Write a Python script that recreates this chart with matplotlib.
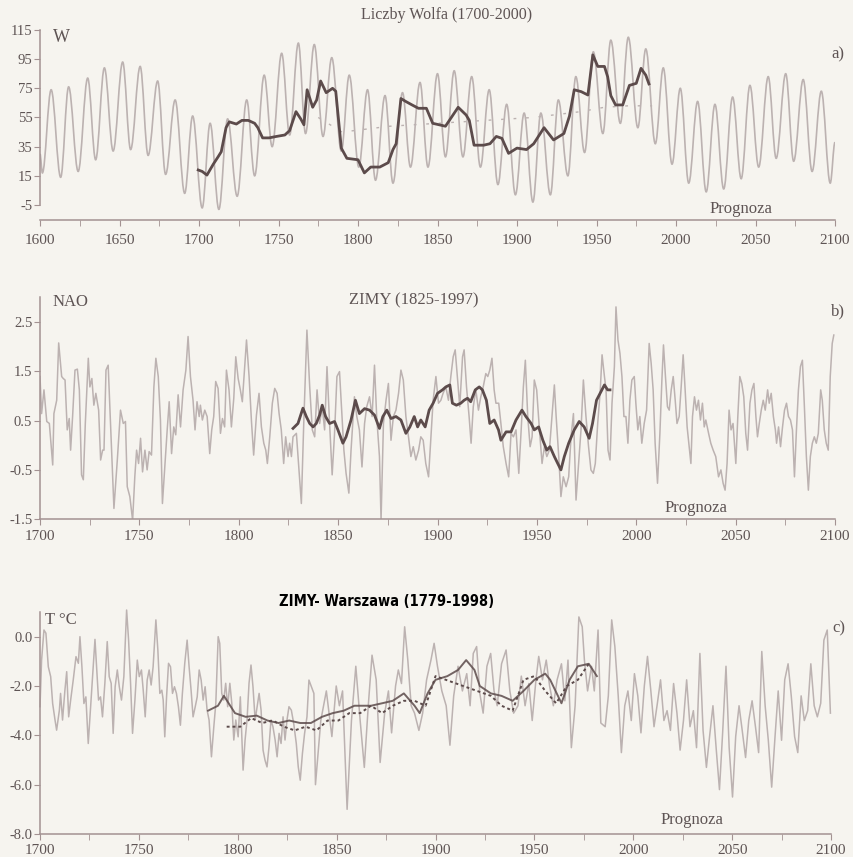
import matplotlib
matplotlib.use("Agg")
import matplotlib.pyplot as plt
from matplotlib.path import Path
from matplotlib.patches import PathPatch
from matplotlib.ticker import FixedLocator, FixedFormatter, MultipleLocator

# --- a) Wolf numbers: cycle extremes of the model curve (year, W) ---
wolf_ext_years = [1600, 1601.5, 1607, 1613, 1618, 1624, 1630, 1635, 1640.5, 1646, 1652, 1657, 1663,
                  1668, 1674, 1679, 1685, 1691, 1696, 1702, 1707, 1712.5, 1718, 1724, 1730, 1735,
                  1741, 1746, 1752, 1757, 1762.5, 1767, 1772.5, 1778, 1783.5, 1789.5, 1794.5,
                  1800.5, 1806, 1811, 1817, 1822, 1828, 1833, 1839, 1844, 1850, 1855, 1860.5,
                  1866, 1871.5, 1877, 1882.5, 1888, 1893.5, 1899, 1904.5, 1910, 1915, 1921, 1926,
                  1932, 1937, 1942.5, 1948, 1954, 1959, 1965, 1970, 1976, 1981, 1987, 1992,
                  1997.5, 2002.7, 2008, 2013.6, 2019, 2024.5, 2030, 2035.6, 2041, 2046.5, 2052,
                  2058, 2063, 2069, 2074, 2080, 2085.6, 2091.4, 2097, 2100]
wolf_ext_vals = [30, 17, 74, 14, 76, 18, 82, 26, 89, 32, 93, 33, 90,
                 29, 80, 16, 67, 3, 56, -7, 51, -8, 54, 1, 67, 15,
                 84, 35, 99, 43, 106, 44, 105, 42, 96, 32, 84,
                 21, 74, 12, 70, 10, 72, 21, 79, 21, 85, 28, 87,
                 28, 83, 21, 74, 9, 64, 2, 58, -3, 58, 2, 67,
                 15, 83, 31, 100, 44, 108, 51, 110, 48, 102, 37, 89,
                 23, 75, 10, 66, 4, 64, 6, 69, 13, 77, 21,
                 83, 27, 85, 25, 81, 18, 73, 10, 38]

# observed, smoothed Wolf numbers 1700-1985
wolf_obs_years = [1699.5, 1702, 1705, 1709, 1712, 1714, 1717, 1719, 1723.5, 1727, 1731, 1735, 1737,
                  1740, 1744, 1748.7, 1754, 1757, 1761, 1764, 1766, 1768, 1771.5, 1774, 1776.5,
                  1780, 1784, 1786, 1789.5, 1793, 1800, 1804, 1808, 1813.7, 1819, 1822, 1824,
                  1827, 1830, 1834, 1838, 1843, 1847, 1855, 1863, 1868, 1870, 1873, 1879, 1883,
                  1887, 1890.5, 1894.7, 1900, 1906, 1910.5, 1917, 1923, 1929.5, 1933, 1936,
                  1940.4, 1944.6, 1947.7, 1950.8, 1955, 1957, 1959, 1962, 1966.5, 1970.7, 1975,
                  1978, 1981, 1983]
wolf_obs_vals = [19, 18, 15.5, 23, 28, 31.5, 48, 52, 50.5, 53, 53, 51, 48,
                 41, 41, 42, 43, 46, 59, 54, 50, 74, 62, 67, 80,
                 72, 75, 73, 34, 27, 26, 17, 21, 21, 24, 33, 37,
                 68, 66, 63.6, 61.3, 61.3, 51, 49, 62, 56.7, 53, 36, 36, 37,
                 42, 40.7, 30.4, 34, 33, 37, 48, 39.6, 44, 56, 74,
                 72.7, 70.4, 97.9, 90, 90, 83, 70, 63.6, 63.6, 77, 78.4,
                 88.7, 84, 78]

# long-period mean (dotted)
wolf_mean_years = [1775, 1790, 1805, 1820, 1835, 1850, 1865, 1880, 1895, 1910, 1925, 1940, 1955, 1970, 1985]
wolf_mean_vals = [55, 45, 47, 49, 50, 51, 52, 53, 54, 55, 57, 59, 62, 63, 63]

# --- b) NAO winter index ---
nao_years = [1700.0, 1700.8, 1702.0, 1703.4, 1704.7, 1706.4, 1707.0, 1708.4, 1709.4, 1710.9, 1711.7,
             1712.6, 1713.7, 1714.7, 1715.4, 1716.4, 1717.6, 1718.8, 1719.8, 1720.9, 1721.8, 1722.8,
             1724.3, 1725.1, 1726.1, 1727.1, 1728.1, 1729.5, 1730.5, 1731.5, 1732.2, 1733.2, 1734.3,
             1735.5, 1737.2, 1738.9, 1740.5, 1741.9, 1743.0, 1743.9, 1745.2, 1746.6, 1747.7, 1748.6,
             1749.6, 1750.6, 1751.6, 1752.8, 1753.9, 1754.9, 1756.1, 1757.3, 1758.3, 1759.5, 1760.6,
             1761.6, 1762.8, 1764.0, 1765.0, 1766.2, 1767.3, 1768.3, 1769.5, 1770.7, 1772.0, 1773.4,
             1774.5, 1775.7, 1777.0, 1778.0, 1779.0, 1780.1, 1780.7, 1781.7, 1782.9, 1784.1, 1785.4,
             1786.4, 1787.4, 1788.4, 1789.6, 1790.8, 1791.8, 1792.9, 1793.8, 1795.1, 1796.3, 1797.5,
             1798.5, 1799.7, 1800.8, 1801.8, 1803.0, 1803.9, 1805.2, 1806.4, 1807.5, 1808.9, 1810.2,
             1811.4, 1812.6, 1813.6, 1814.4, 1815.6, 1816.9, 1818.1, 1819.3, 1820.3, 1821.4, 1822.6,
             1823.6, 1824.8, 1825.6, 1826.5, 1827.3, 1829.0,
             1831.5, 1832.7, 1834.3, 1835.7, 1837.0, 1838.2, 1839.4, 1840.7, 1842.0, 1843.2, 1844.4,
             1845.7, 1847.0, 1848.2, 1849.4, 1850.7, 1851.7, 1852.9, 1854.0, 1855.4, 1856.5, 1858.2,
             1859.4, 1860.7, 1862.0, 1863.3, 1864.4, 1865.8, 1867.1, 1868.3, 1869.4, 1870.8, 1871.6,
             1872.8, 1874.1, 1875.3, 1876.6, 1877.8, 1879.1, 1880.4, 1881.6, 1882.8, 1884.1, 1885.4,
             1886.6, 1887.8, 1889.1, 1890.5, 1891.6, 1892.8, 1894.1, 1895.5, 1896.6, 1897.8, 1899.2,
             1900.5, 1901.7, 1902.8, 1904.2, 1905.5, 1906.7, 1907.9, 1908.9, 1910.1, 1911.2, 1912.6,
             1913.4, 1914.6, 1915.9, 1916.9, 1918.0, 1919.3, 1920.6, 1921.8, 1923.0, 1924.3, 1925.3,
             1926.3, 1927.4, 1928.5, 1929.4, 1930.8, 1931.9, 1933.1, 1934.5, 1935.8, 1937.0, 1938.2,
             1939.5, 1940.9, 1942.1, 1943.2, 1944.2, 1945.4, 1946.6, 1947.6, 1948.7, 1949.9, 1951.3,
             1952.6, 1953.8, 1955.0, 1956.3, 1957.6, 1958.8, 1959.7, 1961.0, 1962.1, 1963.3, 1964.7,
             1966.0, 1967.2, 1968.4,
             1969.7, 1971.0, 1972.2, 1973.4, 1974.7, 1976.0, 1977.2, 1978.4, 1979.4, 1980.6, 1981.8,
             1982.8, 1984.0, 1984.8, 1985.8, 1986.8, 1987.8, 1989.0, 1989.8, 1990.8, 1991.8, 1992.8,
             1993.8, 1994.8, 1995.8, 1996.8, 1997.8, 1999.0, 1999.8, 2000.8, 2001.8, 2002.8, 2004.0,
             2005.2, 2006.5, 2007.5, 2008.5, 2009.5, 2010.7, 2011.9, 2012.9, 2013.7, 2014.6, 2015.7,
             2016.6, 2017.6, 2018.6, 2019.6, 2020.5, 2021.6, 2022.6, 2023.6, 2024.6, 2025.6, 2026.6,
             2027.5, 2028.3, 2029.3, 2030.3, 2031.3, 2032.3, 2033.3, 2034.2, 2035.0, 2036.4, 2037.5,
             2038.7, 2040.0, 2041.4, 2042.6, 2043.7, 2044.7, 2045.7, 2046.7, 2047.7, 2048.7, 2050.1,
             2051.1, 2052.1, 2053.1, 2054.1, 2055.1, 2056.0, 2057.2, 2058.2, 2059.2, 2060.2, 2061.0,
             2061.9, 2062.9, 2063.9, 2064.9, 2066.1, 2066.9, 2067.9, 2069.0, 2070.0, 2070.6, 2071.6,
             2072.6, 2073.6, 2074.6, 2075.6, 2076.6, 2077.6, 2078.6, 2079.6, 2080.6, 2081.6, 2082.6,
             2083.6, 2084.6, 2085.6, 2086.6, 2087.6, 2088.6, 2089.6, 2090.6, 2091.6, 2092.8, 2093.6,
             2094.6, 2095.6, 2096.6, 2097.6, 2098.6, 2099.4]
nao_vals = [1.39, 0.64, 1.12, 0.48, 0.44, -0.4, 0.64, 0.91, 2.07, 1.39, 1.35,
            1.32, 0.31, 0.54, -0.1, 0.58, 1.52, 1.54, 1.12, -0.6, -0.7, 0.44,
            1.76, 1.18, 1.35, 0.81, 1.05, 0.71, -0.3, -0.1, -0.1, 1.52, 1.62,
            0.44, -1.28, -0.3, 0.71, 0.44, 0.48, -0.84, -1.04, -1.52, -0.64, -0.1,
            -0.37, 0.14, -0.54, -0.1, -0.5, -0.13, -0.2, 1.18, 1.76, 1.39, 0.51,
            -1.18, -0.44, 0.31, 0.88, -0.17, 0.37, 0.21, 1.02, 0.37, 1.12, 1.52,
            2.2, 1.39, 0.91, 0.31, 0.88, 0.58, 0.81, 0.51, 0.71, 0.58, -0.17,
            0.31, 0.58, 1.29, 1.15, 0.24, 0.54, 0.37, 1.52, 1.12, 0.37, 0.95,
            1.79, 1.35, 1.12, 0.88, 1.59, 2.13, 1.39, 0.48, -0.2, 0.61, 1.05,
            0.37, 0.04, -0.1, -0.37, 0.17, 0.85, 1.15, 1.05, 0.64, 0.31, -0.37,
            0.17, -0.23, 0.04, -0.23, 0.17, 0.24,
            -1.18, 0.44, 2.33, 1.18, 0.31, 0.17, 1.12, 0.44, 0.78, 0.31, 1.59,
            0.44, -0.6, 0.24, 1.39, 1.49, 0.78, -0.1, -0.57, -0.97, -0.1, 0.98,
            0.58, 0.31, -0.44, 0.44, 0.78, 0.98, 0.58, 1.62, 0.58, -0.23, -1.52,
            0.44, 0.91, 1.25, 0.1, 0.58, 0.71, 1.05, 1.52, 1.32, 0.58, 0.17,
            -0.23, -0.03, -0.3, -0.1, 0.17, 0.1, -0.37, -0.64, 0.1, 0.91, 1.39,
            0.85, 0.91, 1.05, 1.18, 0.91, 1.39, 1.79, 1.93, 1.32, 0.78, 1.79,
            1.93, 1.18, 0.58, 0.04, 0.78, 1.12, 0.71, 0.98, 1.18, 1.45, 1.39,
            1.52, 1.76, 1.12, 0.85, 0.85, 0.44, -0.03, -0.37, -0.64, 0.24, 0.17,
            0.31, -0.57, 0.31, 1.18, 1.72, 0.58, -0.03, 0.17, 1.32, 1.12, 0.31,
            -0.37, -0.03, -0.23, -0.1, 0.58, 1.22, 0.58, -0.23, -1.04, -0.64, -0.84,
            -0.64, 0.17, 0.64,
            -1.11, -0.37, 0.31, 1.32, 0.58, -0.03, -0.5, -0.57, -0.37, 0.44, 1.05,
            1.83, 1.39, 1.12, -0.1, -0.3, 0.85, 1.59, 2.8, 2.13, 1.86, 1.39,
            0.58, 0.58, 0.04, 0.91, 1.32, 1.39, 0.85, 0.31, 0.58, 0.04, 0.44,
            0.71, 2.06, 1.66, 1.12, 0.04, -0.77, 0.24, 1.32, 2.03, 1.45, 0.78,
            0.71, 1.12, 1.39, 0.91, 0.44, 0.58, 1.18, 1.83, 1.12, 0.37, -0.03,
            -0.37, 0.58, 0.98, 0.71, 0.91, 0.51, 0.85, 0.37, 0.51, 0.24, 0.04,
            -0.1, -0.23, -0.64, -0.5, -0.77, -0.91, -0.37, 0.71, 0.31, 0.44, -0.37,
            0.58, 1.39, 1.25, 0.98, 0.24, -0.1, 0.85, 1.12, 1.25, 0.58, 0.17,
            0.44, 0.71, 0.91, 0.71, 1.12, 0.85, 1.05, 0.58, 0.31, 0.04, 0.37,
            -0.03, 0.37, 0.71, 0.85, 0.58, 0.51, 0.31, -0.64, 0.31, 1.12, 1.59,
            1.72, 0.78, -0.23, -0.91, -0.23, 0.04, 0.17, 0.04, 0.24, 1.12, 0.91,
            0.31, 0.04, -0.1, 1.39, 2.06, 2.23]

nao_obs_years = [1827.3, 1829.8, 1832.3, 1834, 1835.7, 1837.4, 1839, 1840.7, 1842, 1843.7, 1845.7,
                 1848.2, 1849.9, 1852.4, 1854, 1856.5, 1858.7, 1860.7, 1863.3, 1865.8, 1868.3,
                 1870.8, 1872.5, 1874.5, 1876.6, 1879.1, 1881.6, 1884.1, 1886.1, 1888.3, 1890,
                 1891.6, 1893.8, 1895.8, 1897.8, 1900, 1902.5, 1904.2, 1906.2, 1907.5, 1909.5,
                 1911.7, 1913.4, 1915.1, 1916.7, 1919, 1921, 1922.6, 1924.6, 1926.3, 1928.5,
                 1930.7, 1931.9, 1934.5, 1937, 1939.5, 1942.5, 1944.5, 1947.1, 1948.7, 1950.9,
                 1953, 1955, 1956.6, 1958.8, 1960.5, 1962.1, 1963.8, 1966, 1968.8, 1971.3, 1973.8,
                 1976.3, 1978, 1980, 1982.2, 1984, 1985.6, 1986.8]
nao_obs_vals = [0.34, 0.44, 0.75, 0.58, 0.44, 0.37, 0.44, 0.61, 0.81, 0.58, 0.44,
                0.48, 0.31, 0.04, 0.17, 0.51, 0.91, 0.64, 0.74, 0.71, 0.61,
                0.34, 0.58, 0.71, 0.54, 0.58, 0.51, 0.24, 0.37, 0.58, 0.37,
                0.51, 0.37, 0.71, 0.85, 1.05, 1.12, 1.18, 1.22, 0.85, 0.81,
                0.85, 0.91, 0.95, 0.88, 1.12, 1.18, 1.12, 0.91, 0.44, 0.51,
                0.31, 0.1, 0.27, 0.27, 0.51, 0.71, 0.58, 0.44, 0.31, 0.37,
                0.1, -0.1, -0.03, -0.23, -0.37, -0.5, -0.23, 0.04, 0.31, 0.48, 0.37,
                0.14, 0.44, 0.91, 1.08, 1.22, 1.12, 1.12]

# --- c) Warsaw winter temperature ---
temp_years = [1700.0, 1700.8, 1702.0, 1703.0, 1704.2, 1705.4, 1706.4, 1707.6, 1708.4, 1709.8, 1710.4,
              1711.4, 1712.6, 1713.5, 1714.5, 1715.5, 1716.8, 1718.2, 1719.4, 1720.2, 1721.2, 1722.2,
              1723.2, 1724.4, 1725.6, 1726.6, 1727.8, 1728.6, 1729.6, 1730.6, 1731.6, 1732.8, 1734.0,
              1735.0, 1736.0, 1737.0, 1738.0, 1739.1, 1740.1, 1741.2, 1742.4, 1743.8, 1744.8, 1745.8,
              1746.8, 1748.0, 1749.2, 1750.2, 1751.3, 1752.2, 1753.2, 1754.2, 1755.2, 1756.2, 1757.2,
              1758.6, 1759.6, 1760.6, 1761.6, 1762.3, 1763.1, 1764.0, 1765.0, 1766.0, 1767.0, 1768.0,
              1769.0, 1770.0, 1771.0, 1772.0, 1773.2, 1774.4, 1775.4, 1776.4, 1777.4, 1778.5, 1779.5,
              1780.5, 1781.5, 1782.5, 1783.5, 1784.5, 1785.5, 1786.7, 1787.9, 1788.9, 1790.1, 1790.9,
              1791.9, 1792.9, 1793.9, 1794.9, 1796.0, 1797.0, 1798.0, 1799.0, 1800.2, 1801.3, 1802.7,
              1803.7, 1804.7, 1805.7, 1806.7, 1807.7, 1808.8, 1809.8, 1810.8, 1811.8, 1812.8, 1813.8,
              1814.8, 1815.8, 1816.8, 1817.8, 1818.9, 1819.9, 1820.9, 1821.9, 1822.9, 1823.9, 1824.9,
              1825.9, 1827.1, 1828.3, 1829.6, 1830.6, 1831.6, 1832.7, 1833.8, 1835.0, 1836.0,
              1838.5, 1839.3, 1842.0, 1844.8, 1847.6, 1849.8, 1851.4, 1853.0, 1855.3, 1857.5, 1859.7,
              1861.9, 1864.0, 1866.0, 1867.9, 1870.0, 1872.0, 1874.3, 1876.2, 1877.8, 1879.8, 1881.2,
              1882.8, 1884.4, 1886.0, 1887.7, 1889.4, 1891.6, 1893.5, 1895.5, 1897.7, 1899.3, 1901.0,
              1903.2, 1905.4, 1907.3, 1909.2, 1911.4, 1913.6, 1915.8, 1917.5, 1919.1, 1920.8, 1922.4,
              1924.1, 1926.0, 1927.9, 1929.6, 1931.2, 1933.4, 1935.7, 1937.6, 1939.5, 1941.7, 1943.4,
              1945.3, 1947.2, 1948.9, 1950.8, 1952.2, 1954.1, 1956.0, 1957.7, 1959.6, 1961.5, 1963.7,
              1965.4, 1967.0, 1968.7, 1970.6, 1972.5, 1974.2, 1975.3, 1976.9, 1978.9, 1980.3, 1982.2,
              1983.6, 1985.8, 1987.4, 1989.1, 1990.7, 1992.4, 1994.0, 1995.7, 1997.3, 1999.0, 2000.6,
              2002.3, 2003.9, 2005.6, 2007.2, 2008.9, 2010.5, 2012.2, 2013.8, 2015.5, 2017.1, 2018.8,
              2020.4, 2022.1, 2023.7, 2025.4, 2027.0, 2028.7, 2030.4, 2032.0, 2033.7, 2035.3, 2037.0,
              2038.6, 2040.3, 2042.0, 2043.6, 2045.2, 2046.9, 2048.5, 2050.2, 2051.8, 2053.5, 2055.1,
              2056.8, 2058.4, 2060.1, 2061.8, 2063.4, 2065.0, 2066.7, 2068.3, 2070.0, 2071.7, 2073.3,
              2075.0, 2076.6, 2078.3, 2079.9, 2081.6, 2083.2, 2084.9, 2086.5, 2088.2, 2089.8, 2091.5,
              2093.1, 2094.8, 2096.4, 2098.1, 2099.7]
temp_vals = [-2.84, -0.95, 0.27, 0.14, -1.22, -1.62, -2.71, -3.38, -3.79, -2.98, -2.3,
             -3.38, -2.17, -1.42, -3.25, -2.57, -1.76, -0.81, -1.08, 0.0, -1.22, -2.71,
             -2.44, -4.33, -2.84, -1.62, -0.11, -1.22, -2.57, -2.44, -3.25, -1.89, -0.2,
             -1.62, -1.89, -3.92, -2.03, -1.35, -2.03, -2.57, -1.62, 1.08, -0.14, -1.89,
             -3.92, -2.57, -0.95, -1.62, -1.35, -2.17, -3.25, -1.76, -1.35, -1.96, -1.22,
             0.68, -0.54, -2.3, -2.17, -2.57, -4.06, -2.44, -1.08, -1.22, -2.3, -2.03,
             -2.3, -2.84, -3.59, -2.3, -1.08, -0.14, -1.22, -2.17, -3.25, -2.84, -2.44,
             -1.35, -1.76, -2.57, -2.03, -2.98, -3.38, -4.87, -3.65, -2.71, 0.0, -0.27,
             -2.3, -2.57, -1.89, -2.84, -1.89, -2.71, -4.19, -3.38, -4.06, -2.44, -5.41,
             -4.19, -3.38, -1.89, -1.15, -2.03, -3.38, -2.84, -2.3, -2.98, -4.6, -5.01,
             -5.28, -4.47, -3.38, -3.65, -4.19, -4.87, -3.92, -4.33, -3.25, -4.19, -3.38,
             -2.84, -2.98, -3.52, -4.33, -5.28, -5.82, -4.74, -3.92, -3.25, -1.76,
             -2.3, -6.0, -3.4, -2.2, -4.05, -2.0, -2.8, -2.2, -7.0, -3.4, -1.2,
             -3.4, -5.3, -2.8, -0.75, -1.75, -5.1, -3.1, -2.2, -3.9, -2.0, -1.35,
             -1.9, 0.4, -0.95, -2.8, -3.1, -3.8, -3.1, -1.75, -0.95, -0.27, -1.2,
             -2.2, -2.8, -4.4, -2.4, -1.2, -2.2, -1.5, -2.8, -0.68, -0.4, -2.3,
             -3.1, -1.2, -0.68, -2.2, -2.8, -1.1, -0.54, -2.2, -3.1, -2.8, -1.6,
             -2.8, -1.9, -3.4, -1.75, -0.8, -1.75, -0.95, -2.0, -2.8, -1.75, -1.1,
             -2.6, -0.95, -4.5, -2.8, 0.8, 0.4, -0.95, -2.2, -1.2, -2.2, 0.27,
             -3.5, -3.65, -2.4, 0.68, -0.4, -2.4, -4.7, -2.8, -2.2, -3.4, -1.5,
             -2.4, -3.9, -2.0, -0.8, -2.2, -3.65, -2.7, -1.75, -3.4, -3.0, -3.8,
             -1.9, -3.1, -4.6, -3.4, -1.75, -3.65, -3.0, -4.5, -0.68, -3.8, -5.3,
             -4.05, -2.8, -4.6, -6.2, -3.9, -1.2, -4.5, -6.5, -4.05, -2.8, -3.8,
             -4.9, -3.4, -2.6, -3.65, -4.7, -0.6, -2.8, -4.2, -6.1, -4.05, -2.2,
             -4.2, -1.75, -1.1, -2.4, -4.05, -4.7, -2.4, -3.4, -3.0, -1.1, -2.8,
             -3.25, -2.7, -0.14, 0.27, -3.1]

temp_obs_years = [1785, 1790, 1793, 1798.6, 1804, 1809.6, 1815, 1820.6, 1826, 1831.6, 1837, 1842.6,
                  1848, 1853.6, 1859, 1867.4, 1873, 1878.4, 1884, 1889.4, 1892, 1896, 1900, 1906,
                  1911.4, 1915.5, 1919.7, 1922.4, 1928, 1933.4, 1939, 1944.5, 1950, 1955.5, 1958,
                  1963.7, 1967.8, 1972, 1977.5, 1981.6]
temp_obs_vals = [-3.0, -2.8, -2.4, -3.1, -3.25, -3.2, -3.4, -3.5, -3.4, -3.5, -3.5, -3.25,
                 -3.1, -3.0, -2.8, -2.8, -2.7, -2.6, -2.3, -2.8, -3.1, -2.3, -1.75, -1.6,
                 -1.35, -0.95, -1.35, -2.0, -2.3, -2.4, -2.6, -2.2, -1.75, -1.5, -1.75,
                 -2.7, -1.75, -1.2, -1.1, -1.6]

temp_obs2_years = [1794.4, 1801.3, 1806.8, 1812.3, 1817.8, 1823.3, 1828.8, 1834.3, 1839.8, 1845.4,
                   1850.9, 1856.4, 1861.9, 1867.4, 1873, 1878.4, 1884, 1889.4, 1895, 1900, 1928,
                   1933.4, 1939, 1944.5, 1950, 1955.5, 1961, 1966.4, 1972, 1977.5]
temp_obs2_vals = [-3.65, -3.65, -3.3, -3.5, -3.4, -3.65, -3.8, -3.65, -3.8, -3.4,
                  -3.4, -3.1, -3.1, -2.8, -3.1, -2.8, -2.6, -2.6, -2.8, -1.6, -2.4,
                  -2.8, -3.0, -1.75, -1.6, -2.2, -2.7, -2.0, -1.75, -1.1]

W, H = 854, 857
PAPER = "#f6f4ef"
LIGHT = "#bcb2b1"
DARK = "#5c4b4b"
AXIS = "#a39292"
TEXT = "#5e5454"
SERIF = ["Liberation Serif", "DejaVu Serif"]

plt.rcParams["axes.unicode_minus"] = False
plt.rcParams["font.family"] = SERIF

fig = plt.figure(figsize=(W / 100, H / 100), dpi=100, facecolor=PAPER)


def box(x0, y0, x1, y1):
    return [x0 / W, 1 - y1 / H, (x1 - x0) / W, (y1 - y0) / H]


def label(x, y, s, size=12, **kw):
    kw.setdefault("color", TEXT)
    fig.text(x / W, 1 - y / H, s, fontsize=size, ha="center", va="center", **kw)


def style(ax, xlim, ylim, yticks, ylabels, pad):
    ax.set_facecolor(PAPER)
    ax.set_xlim(*xlim)
    ax.set_ylim(*ylim)
    for side in ("top", "right"):
        ax.spines[side].set_visible(False)
    for side in ("left", "bottom"):
        ax.spines[side].set_color(AXIS)
        ax.spines[side].set_linewidth(1.1)
    ax.xaxis.set_major_locator(MultipleLocator(50))
    ax.xaxis.set_minor_locator(MultipleLocator(25))
    ax.yaxis.set_major_locator(FixedLocator(yticks))
    ax.yaxis.set_major_formatter(FixedFormatter(ylabels))
    ax.tick_params(axis="x", which="both", direction="out", length=4, color=AXIS,
                   labelsize=11, labelcolor=TEXT, pad=pad)
    ax.tick_params(axis="y", direction="out", length=4, color=AXIS,
                   labelsize=10.5, labelcolor=TEXT, pad=1.5)


def smooth_wave(xs, ys, k=0.36):
    # cubic segments with flat tangents at every cycle extreme
    verts = [(xs[0], ys[0])]
    codes = [Path.MOVETO]
    for i in range(len(xs) - 1):
        dx = xs[i + 1] - xs[i]
        verts += [(xs[i] + k * dx, ys[i]), (xs[i + 1] - k * dx, ys[i + 1]), (xs[i + 1], ys[i + 1])]
        codes += [Path.CURVE4] * 3
    return Path(verts, codes)


# a) Wolf numbers
ax1 = fig.add_axes(box(40, 25.6, 835, 220))
style(ax1, (1600, 2100), (-15.3, 118), [-5, 15, 35, 55, 75, 95, 115],
      ["-5", "15", "35", "55", "75", "95", "115"], pad=6)
ax1.spines["left"].set_bounds(-5, 115)
ax1.add_patch(PathPatch(smooth_wave(wolf_ext_years, wolf_ext_vals), fill=False,
                        edgecolor=LIGHT, lw=1.2))
ax1.plot(wolf_mean_years, wolf_mean_vals, color=LIGHT, lw=1.0, ls=(0, (2, 7)))
ax1.plot(wolf_obs_years, wolf_obs_vals, color=DARK, lw=2.0)
label(447, 15, "Liczby Wolfa (1700-2000)", 11.5)
label(61, 38, "W", 13)
label(838, 54, "a)", 12)
label(741, 209, "Prognoza", 12)

# b) NAO
ax2 = fig.add_axes(box(40, 297, 835, 519.3))
style(ax2, (1700, 2100), (-1.5, 3.0), [-1.5, -0.5, 0.5, 1.5, 2.5],
      ["-1.5", "-0.5", "0.5", "1.5", "2.5"], pad=4)
ax2.plot(nao_years, nao_vals, color=LIGHT, lw=1.1)
ax2.plot(nao_obs_years, nao_obs_vals, color=DARK, lw=2.0)
label(414, 300, "ZIMY (1825-1997)", 12)
label(70, 302, "NAO", 12)
label(838, 311, "b)", 12)
label(696, 508, "Prognoza", 12)

# c) Warsaw winters
ax3 = fig.add_axes(box(40, 612, 831, 834))
style(ax3, (1700, 2100), (-8, 1.0), [-8, -6, -4, -2, 0],
      ["-8.0", "-6.0", "-4.0", "-2.0", "0.0"], pad=3.5)
ax3.plot(temp_years, temp_vals, color=LIGHT, lw=1.1, clip_on=False)
ax3.plot(temp_obs2_years, temp_obs2_vals, color=DARK, lw=1.4, ls=(0, (1.5, 1.5)))
ax3.plot(temp_obs_years, temp_obs_vals, color=DARK, lw=1.4, alpha=0.85)
label(387, 601, "ZIMY- Warszawa (1779-1998)", 10.5, color="black", weight="bold",
      stretch="condensed", family=["Liberation Sans Narrow", "DejaVu Sans"])
label(61, 620, "T \u00b0C", 12)
label(839, 628, "c)", 12)
label(692, 820, "Prognoza", 12)

fig.savefig("out.png", dpi=100, facecolor=PAPER)
